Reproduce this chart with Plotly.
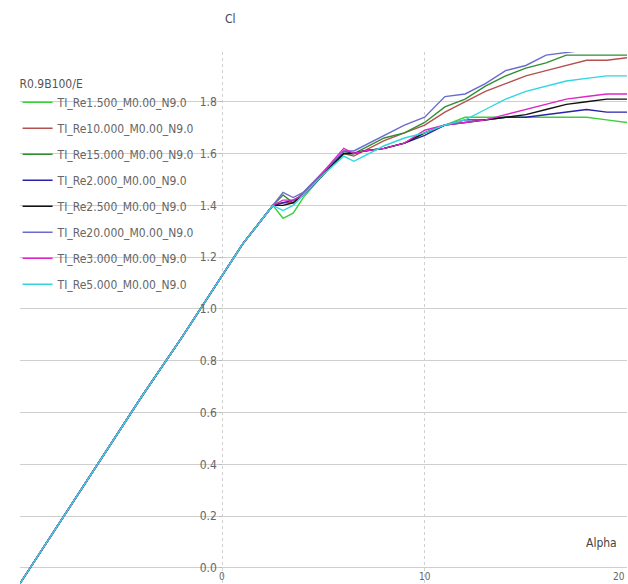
import plotly.graph_objects as go

alpha = [-10, -8, -6, -4, -2, 0, 1, 2, 2.5, 3, 3.5, 4, 5, 6, 6.5, 7, 8, 9, 10, 11, 12, 13, 14, 15, 16, 17, 18, 19, 20]

lin = [-0.06, 0.18, 0.42, 0.66, 0.89, 1.13, 1.25, 1.35, 1.40]

cl_re1500  = lin + [1.35, 1.37, 1.43, 1.52, 1.60, 1.60, 1.61, 1.62, 1.64, 1.68, 1.71, 1.74, 1.74, 1.74, 1.74, 1.74, 1.74, 1.74, 1.73, 1.72]
cl_re10000 = lin + [1.41, 1.41, 1.44, 1.52, 1.60, 1.59, 1.61, 1.65, 1.68, 1.71, 1.76, 1.80, 1.84, 1.87, 1.90, 1.92, 1.94, 1.96, 1.96, 1.97]
cl_re15000 = lin + [1.44, 1.41, 1.45, 1.53, 1.60, 1.60, 1.62, 1.66, 1.68, 1.72, 1.78, 1.81, 1.86, 1.90, 1.93, 1.95, 1.98, 1.98, 1.98, 1.98]
cl_re2000  = lin + [1.41, 1.42, 1.44, 1.52, 1.61, 1.60, 1.61, 1.62, 1.64, 1.67, 1.71, 1.73, 1.73, 1.74, 1.74, 1.75, 1.76, 1.77, 1.76, 1.76]
cl_re2500  = lin + [1.40, 1.41, 1.44, 1.52, 1.60, 1.60, 1.61, 1.62, 1.64, 1.68, 1.71, 1.72, 1.73, 1.74, 1.75, 1.77, 1.79, 1.80, 1.81, 1.81]
cl_re20000 = lin + [1.45, 1.43, 1.45, 1.53, 1.61, 1.61, 1.63, 1.67, 1.71, 1.74, 1.82, 1.83, 1.87, 1.92, 1.94, 1.98, 1.99, 2.00, 2.00, 2.00]
cl_re3000  = lin + [1.42, 1.42, 1.44, 1.53, 1.62, 1.60, 1.61, 1.62, 1.64, 1.69, 1.71, 1.72, 1.73, 1.75, 1.77, 1.79, 1.81, 1.82, 1.83, 1.83]
cl_re5000  = lin + [1.38, 1.40, 1.44, 1.52, 1.59, 1.57, 1.59, 1.63, 1.66, 1.68, 1.71, 1.73, 1.77, 1.81, 1.84, 1.86, 1.88, 1.89, 1.90, 1.90]

names = ["TI_Re1.500_M0.00_N9.0", "TI_Re10.000_M0.00_N9.0", "TI_Re15.000_M0.00_N9.0",
         "TI_Re2.000_M0.00_N9.0", "TI_Re2.500_M0.00_N9.0", "TI_Re20.000_M0.00_N9.0",
         "TI_Re3.000_M0.00_N9.0", "TI_Re5.000_M0.00_N9.0"]
series = [cl_re1500, cl_re10000, cl_re15000, cl_re2000, cl_re2500, cl_re20000, cl_re3000, cl_re5000]
colors = ["#3ccf3c", "#b5514f", "#2f8f2f", "#2a22a8", "#111111", "#6b6bcf", "#e026c8", "#2fd6e0"]

y_ticks = [0.0, 0.2, 0.4, 0.6, 0.8, 1.0, 1.2, 1.4, 1.6, 1.8]
x_ticks = [-10, 0, 10, 20]
x_labels = [0, 10, 20]

FONT = "Liberation Sans Narrow, DejaVu Sans Condensed, sans-serif"

fig = go.Figure()
for i, (n, s, c) in enumerate(zip(names, series, colors)):
    fig.add_trace(go.Scatter(x=alpha, y=s, mode="lines", name=n,
                             line=dict(color=c, width=1.4), legendgroup=str(i)))

fig.update_layout(
    width=628, height=584,
    margin=dict(l=20, r=1, t=52, b=0),
    paper_bgcolor="white", plot_bgcolor="white",
    font=dict(family=FONT, size=12, color="#666666"),
    showlegend=True,
    legend=dict(x=-0.004, y=0.962, xanchor="left", yanchor="top",
                bgcolor="rgba(0,0,0,0)", tracegroupgap=7,
                font=dict(family=FONT, size=12, color="#666666"),
                title=dict(text="R0.9B100/E", side="top", font=dict(family=FONT, size=12, color="#555555"))),
    xaxis=dict(range=[-10, 20], tickvals=x_ticks, showticklabels=False,
               showgrid=True, gridcolor="#d0d0d0", griddash="dot", gridwidth=1,
               zeroline=False, showline=False),
    yaxis=dict(range=[-0.062, 1.992], tickvals=y_ticks, tickformat=".1f",
               anchor="free", position=1/3, side="left",
               ticks="outside", ticklen=3, tickcolor="#bbbbbb",
               showgrid=True, gridcolor="#cfcfcf", gridwidth=1,
               zeroline=False, showline=False,
               tickfont=dict(family=FONT, size=12, color="#666666")),
)

for xv in x_labels:
    fig.add_annotation(x=xv, y=0, xref="x", yref="paper", text=str(xv), showarrow=False,
                       xanchor="right" if xv == 20 else "center",
                       yanchor="bottom", yshift=0, font=dict(family=FONT, size=10, color="#666666"))

fig.add_annotation(x=0, y=1, xref="x", yref="paper", text="Cl", showarrow=False,
                   yanchor="bottom", yshift=24, xshift=8, font=dict(family=FONT, size=12, color="#444444"))
fig.add_annotation(x=20, y=0, xref="x", yref="paper", text="Alpha", showarrow=False,
                   xanchor="right", yanchor="bottom", yshift=32, xshift=-8,
                   font=dict(family=FONT, size=12, color="#444444"))

fig.write_html("out.html")
